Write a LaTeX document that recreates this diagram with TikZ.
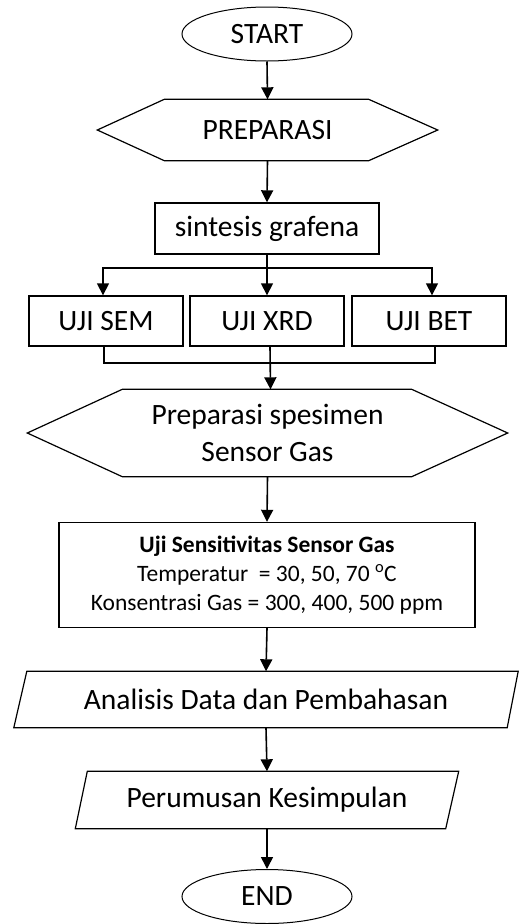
\documentclass[tikz,border=0pt]{standalone}
\usepackage{fontspec}
\setmainfont{Carlito}
\usetikzlibrary{shapes.geometric,arrows.meta,calc}
\begin{document}
\begin{tikzpicture}[x=1pt,y=-1pt,
  line width=1.4pt,
  mainfont/.style={font=\fontsize{29.5}{35}\selectfont},
  term/.style={ellipse,draw,line width=1pt,minimum width=170pt,minimum height=54pt,inner sep=0pt,mainfont},
  procbox/.style={rectangle,draw,line width=1.4pt,inner sep=0pt,mainfont},
  shapebox/.style={rectangle,draw=none,inner sep=0pt,mainfont,align=center},
  outline/.style={line width=1.2pt,line join=miter},
  arr/.style={-{Triangle[width=12pt,length=12pt]},line width=1.6pt},
  link/.style={line width=1.2pt}]
\useasboundingbox (0,0) rectangle (528,924);
\fill[white] (0,0) rectangle (528,924);

% nodes
\node[term] (start) at (267,34) {START};
\node[shapebox,minimum width=339pt,minimum height=60pt] (prep) at (267.5,130) {PREPARASI};
\node[procbox,minimum width=224pt,minimum height=51pt] (sint) at (267,228.5) {sintesis grafena};
\node[procbox,minimum width=154pt,minimum height=50pt] (sem) at (106,321) {UJI SEM};
\node[procbox,minimum width=154pt,minimum height=50pt] (xrd) at (267,321) {UJI XRD};
\node[procbox,minimum width=154pt,minimum height=50pt] (bet) at (429,321) {UJI BET};
\node[shapebox,minimum width=479pt,minimum height=86pt,font=\fontsize{29.5}{37}\selectfont] (spec) at (267.5,433) {Preparasi spesimen\\Sensor Gas};
\node[procbox,minimum width=416pt,minimum height=105pt,align=center,font=\fontsize{23.5}{29}\selectfont] (uji) at (267,575)
  {\textbf{Uji Sensitivitas Sensor Gas}\\Temperatur\ \ = 30, 50, 70 \textsuperscript{o}C\\Konsentrasi Gas = 300, 400, 500 ppm};
\node[shapebox,minimum width=503pt,minimum height=55pt] (ana) at (266,699.5) {Analisis Data dan Pembahasan};
\node[shapebox,minimum width=382pt,minimum height=56pt] (rum) at (267,800) {Perumusan Kesimpulan};
\node[term] (end) at (267,896.5) {END};

% outlines of hexagons and parallelograms
\draw[outline] (prep.west) -- ($(prep.north west)+(67,0)$) -- ($(prep.north east)+(-69,0)$) -- (prep.east)
  -- ($(prep.south east)+(-69,0)$) -- ($(prep.south west)+(67,0)$) -- cycle;
\draw[outline] (spec.west) -- ($(spec.north west)+(95,0)$) -- ($(spec.north east)+(-96,0)$) -- (spec.east)
  -- ($(spec.south east)+(-96,0)$) -- ($(spec.south west)+(95,0)$) -- cycle;
\draw[outline] ($(ana.north west)+(13,0)$) -- (ana.north east) -- ($(ana.south east)+(-11,0)$) -- (ana.south west) -- cycle;
\draw[outline] ($(rum.north west)+(12,0)$) -- (rum.north east) -- ($(rum.south east)+(-13,0)$) -- (rum.south west) -- cycle;

% connectors
\coordinate (split) at (267,268);
\coordinate (join) at (270,363);
\draw[arr] (start.south) -- (prep.north);
\draw[arr] (prep.south) -- (sint.north);
\draw[link] (sint.south) -- (split);
\draw[arr] (split) -| ([xshift=-3pt]sem.north);
\draw[arr] (split) -- (xrd.north);
\draw[arr] (split) -| ([xshift=3pt]bet.north);
\draw[link] ([xshift=-2pt]sem.south) |- (join);
\draw[link] ([xshift=6pt]bet.south) |- (join);
\draw[arr] ([xshift=3pt]xrd.south) -- ([xshift=3pt]spec.north);
\draw[arr] (spec.south) -- (uji.north);
\draw[arr] (uji.south) -- (ana.north);
\draw[arr] (ana.south) -- (rum.north);
\draw[arr] (rum.south) -- (end.north);
\end{tikzpicture}
\end{document}
